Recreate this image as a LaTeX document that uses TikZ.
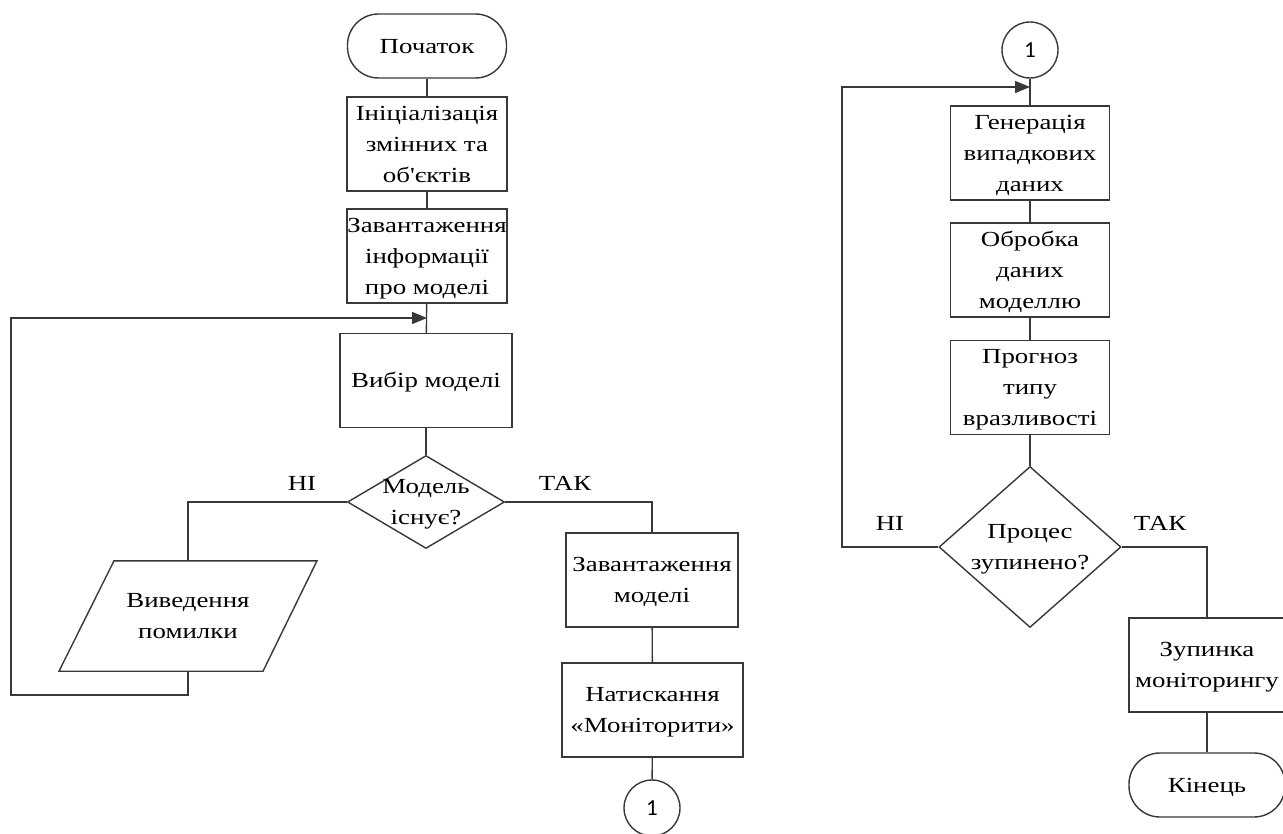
\documentclass[tikz,border=0pt]{standalone}
\usepackage{fontspec}
\setmainfont{Liberation Serif}[FakeStretch=1.25,Ligatures=TeXOff]
\newfontfamily\numfont{Carlito}
\usetikzlibrary{shapes.geometric,arrows.meta}
\newcommand{\tl}[1]{\raisebox{-6pt}[0pt][0pt]{\makebox[0pt]{\begin{tabular}{@{}c@{}}#1\end{tabular}}}}
\definecolor{lc}{HTML}{383838}
\tikzset{
  proc/.style={draw=lc, rectangle, inner sep=0pt, minimum width=#1, minimum height=94},
  term/.style={draw=lc, rectangle, rounded corners=31pt, inner sep=0pt, minimum width=#1, minimum height=64},
  dec/.style 2 args={draw=lc, diamond, inner sep=0pt, minimum width=#1, minimum height=#2},
  conn/.style={draw=lc, circle, inner sep=0pt, minimum size=56, font=\numfont\fontsize{23}{26}\selectfont},
  lbl/.style={inner sep=0pt},
  line/.style={draw=lc},
  arr/.style={draw=lc, -{Triangle[length=15pt,width=12pt]}}
}
\begin{document}
\begin{tikzpicture}[x=1pt,y=-1pt,line width=1.4pt,font=\fontsize{21.5}{31}\selectfont]
\useasboundingbox (0,0) rectangle (1283,834);
\fill[white] (0,0) rectangle (1283,834);

% left column
\node[term=159] (start) at (427,46) {\tl{Початок}};
\node[proc=160] (init) at (427,144) {\tl{Ініціалізація\\змінних та\\об'єктів}};
\node[proc=160] (load) at (427,256) {\tl{Завантаження\\інформації\\про моделі}};
\node[proc=172] (sel) at (426,380.5) {\tl{Вибір моделі}};
\node[dec={157}{93}] (ex) at (426,502) {\tl{Модель\\існує?}};
\node[inner sep=0pt, minimum width=150, minimum height=109] (err) at (188,616) {\tl{Виведення\\помилки}};
\draw[line] ([xshift=-74pt]err.north) -- ([xshift=129pt]err.north) -- ([xshift=75pt]err.south) -- ([xshift=-129pt]err.south) -- cycle;
\node[proc=172] (loadm) at (652,580) {\tl{Завантаження\\моделі}};
\node[proc=181] (mon) at (652.5,710) {\tl{Натискання\\«Моніторити»}};
\node[conn] (c1) at (652,808) {1};

\node[lbl] (no1) at (302,483) {НІ};
\node[lbl] (yes1) at (565,483) {ТАК};

\coordinate (j1) at (427,318);
\coordinate (lb) at (11,695);
\coordinate (lt) at (11,318);

\draw[line] (start) -- (init);
\draw[line] (init) -- (load);
\draw[line] (load) -- (sel);
\draw[line] (sel) -- (ex);
\draw[line] (ex.west) -| (err.north);
\draw[line] (ex.east) -| (loadm.north);
\draw[line] (loadm) -- (mon);
\draw[line] (mon) -- (c1);
\draw[arr] (err.south) |- (lb) -- (lt) -- (j1);

% right column
\node[conn] (c2) at (1030,50) {1};
\node[proc=159] (gen) at (1030,153) {\tl{Генерація\\випадкових\\даних}};
\node[proc=159] (proc) at (1030,270) {\tl{Обробка\\даних\\моделлю}};
\node[proc=159] (pred) at (1030,387.5) {\tl{Прогноз\\типу\\вразливості}};
\node[dec={182}{161}] (stop) at (1030,547) {\tl{Процес\\зупинено?}};
\node[proc=156] (halt) at (1207,665) {\tl{Зупинка\\моніторингу}};
\node[term=156] (end) at (1207,785) {\tl{Кінець}};

\node[lbl] (no2) at (890,523) {НІ};
\node[lbl] (yes2) at (1160,523) {ТАК};

\coordinate (j2) at (1030,87);
\coordinate (rb) at (842,87);

\draw[line] (c2) -- (gen);
\draw[line] (gen) -- (proc);
\draw[line] (proc) -- (pred);
\draw[line] (pred) -- (stop);
\draw[arr] (stop.west) -| (rb) -- (j2);
\draw[line] (stop.east) -| (halt.north);
\draw[line] (halt) -- (end);
\end{tikzpicture}
\end{document}
